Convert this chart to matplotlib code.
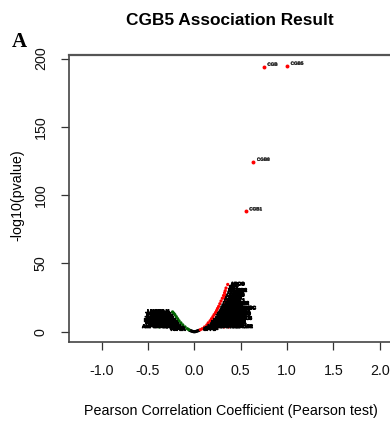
import matplotlib
matplotlib.use("Agg")
import matplotlib.pyplot as plt
import matplotlib.patheffects as pe

plt.rcParams['font.family'] = ['Liberation Sans', 'DejaVu Sans']
plt.rcParams['axes.unicode_minus'] = False

# ---------------- data ----------------
title = "CGB5 Association Result"
panel = "A"
xlabel = "Pearson Correlation Coefficient (Pearson test)"
ylabel = "-log10(pvalue)"
xticks = [-1.0, -0.5, 0.0, 0.5, 1.0, 1.5, 2.0]
yticks = [0, 50, 100, 150, 200]

top_genes = ["CGB5", "CGB", "CGB8", "CGB1"]
top_r = [1.0, 0.749, 0.636, 0.554]
top_logp = [194.7, 194.0, 124.4, 88.1]

pos_genes = [
    "SPP1",
    "RGS2",
    "KRT7", "LHB", "PAPPA", "TFPI2", "HSD11B2",
    "CYP19A1", "GDF15", "KISS1", "INSL4", "ED",
    "PSG4", "PSG1", "ERVW1", "GCM1",
    "PGF", "LGALS13", "CSH1", "GH2",
    "ADAM12", "PAPPA2", "XAGE3", "SIGLEC6",
    "TAC3", "FBN2", "HTRA4", "CRH",
    "EBI3", "DLK1", "PLAC4", "ENDOU",
    "CDH1", "KRT19", "SLC2A1", "TFAP2A",
    "GATA3", "KRT23", "LIN28B",
    "PRKDC1", "CD9", "LGALS16", "PRKDC",
    "PSG5", "PSG9", "ELF5",
    "CDS3", "PSG3", "PSG2",
    "CDSS2", "OVOL1",
    "CDSNA", "SDC1",
    "CDGG1", "TEAD3",
    "CDSSS",
    "ENTPD2",
    "PPY",
    "ABCG",
]
pos_r = [
    0.065,
    0.085,
    0.11, 0.18, 0.25, 0.32, 0.37,
    0.135, 0.21, 0.28, 0.35, 0.41,
    0.15, 0.23, 0.30, 0.38,
    0.17, 0.24, 0.31, 0.38,
    0.185, 0.26, 0.33, 0.37,
    0.20, 0.27, 0.34, 0.40,
    0.213, 0.28, 0.35, 0.39,
    0.228, 0.29, 0.35, 0.38,
    0.24, 0.30, 0.36,
    0.25, 0.31, 0.36, 0.45,
    0.262, 0.32, 0.37,
    0.275, 0.33, 0.42,
    0.288, 0.34,
    0.302, 0.33,
    0.315, 0.34,
    0.326,
    0.333,
    0.342,
    0.360,
]
pos_logp = [
    1.5,
    2.2,
    3.5, 3.5, 3.5, 3.5, 3.5,
    5.0, 5.0, 5.0, 5.0, 5.0,
    6.5, 6.5, 6.5, 6.5,
    8.0, 8.0, 8.0, 8.0,
    9.5, 9.5, 9.5, 9.5,
    11.0, 11.0, 11.0, 11.0,
    12.5, 12.5, 12.5, 12.5,
    14.0, 14.0, 14.0, 14.0,
    15.5, 15.5, 15.5,
    17.0, 17.0, 17.0, 17.0,
    18.5, 18.5, 18.5,
    20.5, 20.5, 20.5,
    22.5, 22.5,
    24.5, 24.5,
    26.5, 26.5,
    28.5,
    30.0,
    32.0,
    34.6,
]

neg_genes = [
    "TOP2A",
    "MKI67",
    "CCNB1", "CDK1", "BUB1", "AMPS",
    "MCM2", "KIF11", "CENPF", "TTK",
    "ASPM", "NUSAP1", "PRC1", "DNSB",
    "VIM", "COL1A1", "FN1", "DNS",
    "ZEB1", "SNAI2", "TWIST1",
    "CDH2", "SPARC", "THY1",
    "PDGFRB", "ACTA2", "TAGLN",
    "MYH11", "CNN1", "DES",
    "MYLK", "LMOD1",
]
neg_r = [
    -0.06,
    -0.075,
    -0.10, -0.17, -0.25, -0.38,
    -0.125, -0.20, -0.27, -0.34,
    -0.145, -0.21, -0.28, -0.35,
    -0.165, -0.23, -0.30, -0.40,
    -0.18, -0.24, -0.31,
    -0.195, -0.26, -0.32,
    -0.21, -0.27, -0.32,
    -0.222, -0.28, -0.34,
    -0.235, -0.29,
]
neg_logp = [
    1.5,
    2.2,
    3.5, 3.5, 3.5, 3.5,
    5.0, 5.0, 5.0, 5.0,
    6.5, 6.5, 6.5, 6.5,
    8.0, 8.0, 8.0, 8.0,
    9.5, 9.5, 9.5,
    11.0, 11.0, 11.0,
    12.5, 12.5, 12.5,
    13.5, 13.5, 13.5,
    14.5, 14.5,
]

# non-significant genes (unlabelled)
null_r = [-0.05, -0.04, -0.03, -0.02, -0.01, 0.0, 0.01, 0.02, 0.03, 0.04, 0.05]
null_logp = [1.0, 0.75, 0.5, 0.25, 0.08, 0.0, 0.08, 0.25, 0.5, 0.75, 1.0]

sig_cut = 1.3

# ---------------- plot ----------------
W, H = 390, 421
fig = plt.figure(figsize=(W / 100, H / 100), dpi=100)
ax = fig.add_axes([69 / W, 1 - 341.7 / H, (411 - 69) / W, (341.7 - 55) / H])
ax.set_xlim(-1.352, 2.337)
ax.set_ylim(-7.3, 202.6)


def colour(r, y):
    if y > sig_cut and r > 0:
        return "#ff0000"
    if y > sig_cut and r < 0:
        return "#006400"
    return "black"


all_r = null_r + neg_r + pos_r
all_y = null_logp + neg_logp + pos_logp
ax.scatter(all_r, all_y, s=5.5, c=[colour(r, y) for r, y in zip(all_r, all_y)],
           linewidths=0, zorder=2)
ax.scatter(top_r, top_logp, s=8, c="#ff0000", linewidths=0, zorder=2)

thick = [pe.withStroke(linewidth=0.8, foreground="black")]
lab_kw = dict(textcoords="offset points", va="center", fontsize=3.4,
              fontweight="bold", color="black", zorder=3, path_effects=thick)
for g, r, y in zip(pos_genes, pos_r, pos_logp):
    ax.annotate(g, (r, y), xytext=(2.2, 0.45), ha="left", **lab_kw)
for g, r, y in zip(neg_genes, neg_r, neg_logp):
    ax.annotate(g, (r, y), xytext=(-2.2, 0.45), ha="right", **lab_kw)
for g, r, y in zip(top_genes, top_r, top_logp):
    ax.annotate(g, (r, y), xytext=(2.6, 1.8), ha="left",
                textcoords="offset points", va="center", fontsize=3.3,
                fontweight="bold", color="#222222", zorder=3,
                path_effects=[pe.withStroke(linewidth=0.25, foreground="#444444")])

ax.set_xticks(xticks)
ax.set_xticklabels([f"{v:.1f}" for v in xticks])
ax.set_yticks(yticks)
ax.set_yticklabels([str(v) for v in yticks], rotation=90, va="center")
ax.tick_params(axis="both", length=5.8, width=0.9, color="#333333",
               labelsize=10.3, labelcolor="#111111")
ax.tick_params(axis="x", pad=10)
ax.tick_params(axis="y", pad=9.5)

for side in ["left", "bottom", "right"]:
    ax.spines[side].set_color("#444444")
    ax.spines[side].set_linewidth(1.2)
ax.spines["top"].set_color("#555555")
ax.spines["top"].set_linewidth(1.6)

fig.text(230 / W, 1 - 25 / H, title, ha="center", va="baseline",
         fontsize=12.4, fontweight="bold")
fig.text(12 / W, 1 - 47 / H, panel, ha="left", va="baseline",
         fontsize=15, fontweight="bold", family="Liberation Serif")
fig.text(17.5 / W, 1 - 195 / H, ylabel, rotation=90, ha="center", va="center",
         fontsize=10.3)
fig.text(231 / W, 1 - 411 / H, xlabel, ha="center", va="center", fontsize=10.3)

fig.savefig("out.png", dpi=100)
